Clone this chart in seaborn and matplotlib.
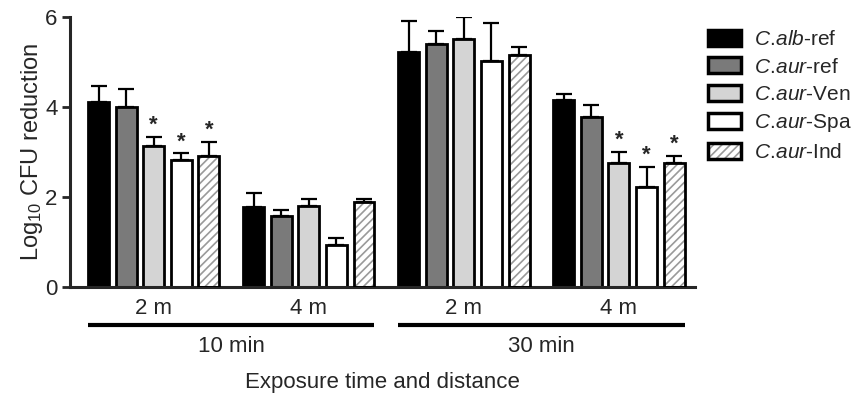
import matplotlib
matplotlib.use("Agg")
import matplotlib.pyplot as plt
import matplotlib.patches as mpatches
import matplotlib.transforms as mtransforms
from matplotlib.legend_handler import HandlerTuple
import numpy as np
import pandas as pd
import seaborn as sns

# data
conditions = ["10 min 2 m", "10 min 4 m", "30 min 2 m", "30 min 4 m"]
tick_labels = ["2 m", "4 m", "2 m", "4 m"]
times = ["10 min", "30 min"]
strains = ["C.alb-ref", "C.aur-ref", "C.aur-Ven", "C.aur-Spa", "C.aur-Ind"]
legend_labels = [r"$\it{C.\!alb}$-ref", r"$\it{C.\!aur}$-ref", r"$\it{C.\!aur}$-Ven",
                 r"$\it{C.\!aur}$-Spa", r"$\it{C.\!aur}$-Ind"]
# mean log10 reduction per strain, one value per condition
alb_ref = [4.11, 1.78, 5.22, 4.16]
aur_ref = [4.00, 1.58, 5.40, 3.78]
aur_ven = [3.13, 1.80, 5.51, 2.76]
aur_spa = [2.82, 0.93, 5.02, 2.22]
aur_ind = [2.91, 1.89, 5.15, 2.76]
# upper error (SD)
alb_ref_err = [0.36, 0.31, 0.69, 0.13]
aur_ref_err = [0.40, 0.13, 0.29, 0.26]
aur_ven_err = [0.21, 0.16, 0.49, 0.24]
aur_spa_err = [0.15, 0.16, 0.85, 0.45]
aur_ind_err = [0.32, 0.06, 0.18, 0.15]
# significance stars (strain, condition index)
stars = [("C.aur-Ven", 0), ("C.aur-Spa", 0), ("C.aur-Ind", 0),
         ("C.aur-Ven", 3), ("C.aur-Spa", 3), ("C.aur-Ind", 3)]

means = [alb_ref, aur_ref, aur_ven, aur_spa, aur_ind]
errs = [alb_ref_err, aur_ref_err, aur_ven_err, aur_spa_err, aur_ind_err]
rows = []
for s, m, e in zip(strains, means, errs):
    for c, v, ev in zip(conditions, m, e):
        rows.append({"condition": c, "strain": s, "value": v, "err": ev})
df = pd.DataFrame(rows)

colors = ["#000000", "#7a7a7a", "#d4d4d4", "#ffffff", "#ffffff"]
hatch_color = "#9a9a9a"

sns.set_style("ticks")
plt.rcParams["font.family"] = ["Liberation Sans", "DejaVu Sans"]
plt.rcParams["mathtext.fontset"] = "custom"
plt.rcParams["mathtext.rm"] = "Liberation Sans"
plt.rcParams["mathtext.it"] = "Liberation Sans:italic"
plt.rcParams["hatch.linewidth"] = 1.2

fig = plt.figure(figsize=(8.6, 3.98), dpi=100)
ax = fig.add_axes([0.0814, 0.279, 0.7266, 0.678])

sns.barplot(data=df, x="condition", y="value", hue="strain", order=conditions,
            hue_order=strains, palette=colors, errorbar=None, width=0.89,
            gap=0.24, edgecolor="black", linewidth=2, legend=False, ax=ax,
            saturation=1)
bar_groups = list(ax.containers)

tops = {}
for cont, s, e in zip(bar_groups, strains, errs):
    xs, hs = [], []
    for p in cont.patches:
        xs.append(p.get_x() + p.get_width() / 2)
        hs.append(p.get_height())
        if s == "C.aur-Ind":
            p.set_hatch("////")
            p.set_edgecolor(hatch_color)
            p.set_linewidth(0)
            ax.add_patch(mpatches.Rectangle((p.get_x(), 0), p.get_width(), p.get_height(),
                                            fill=False, edgecolor="black", linewidth=2, zorder=3))
    xs = np.array(xs)
    hs = np.array(hs)
    ax.errorbar(xs, hs, yerr=[np.zeros(len(e)), e], fmt="none", ecolor="black",
                elinewidth=1.6, capsize=6, capthick=1.6, zorder=1)
    tops[s] = (xs, hs + np.array(e))

for s, i in stars:
    x, t = tops[s][0][i], tops[s][1][i]
    ax.text(x, t + 0.02, "*", ha="center", va="bottom", fontsize=16, fontweight="bold")

ax.set_ylim(0, 6)
ax.set_yticks([0, 2, 4, 6])
ax.set_xlim(-0.54, 3.49)
ax.set_xticks(range(len(conditions)))
ax.set_xticklabels(tick_labels)
ax.tick_params(axis="x", length=0, pad=8, labelsize=16)
ax.tick_params(axis="y", length=6, width=2, labelsize=16, pad=3)
for sp in ["left", "bottom"]:
    ax.spines[sp].set_linewidth(2.2)
sns.despine(ax=ax)
ax.set_xlabel("")
ax.set_ylabel(r"Log$_{10}$ CFU reduction", fontsize=17, labelpad=0)

# time brackets under the axis
trans = mtransforms.blended_transform_factory(ax.transData, ax.transAxes)
first = bar_groups[0].patches
last = bar_groups[-1].patches
for k, t in enumerate(times):
    x0 = first[2 * k].get_x()
    x1 = last[2 * k + 1].get_x() + last[2 * k + 1].get_width()
    ax.plot([x0, x1], [-0.141, -0.141], color="black", linewidth=3,
            transform=trans, clip_on=False, solid_capstyle="butt")
    ax.text((x0 + x1) / 2, -0.22, t, transform=trans, ha="center", va="center",
            fontsize=16)
ax.text(0.5, -0.355, "Exposure time and distance", transform=ax.transAxes,
        ha="center", va="center", fontsize=16)

handles = []
for c, s in zip(colors, strains):
    if s == "C.aur-Ind":
        h1 = mpatches.Patch(facecolor="white", edgecolor=hatch_color, hatch="////", linewidth=0)
        h2 = mpatches.Patch(facecolor="none", edgecolor="black", linewidth=2.5)
        handles.append((h1, h2))
    else:
        handles.append(mpatches.Patch(facecolor=c, edgecolor="black", linewidth=2.5))
fig.legend(handles, legend_labels, loc="upper left", bbox_to_anchor=(0.823, 0.925),
           frameon=False, fontsize=15, handlelength=1.6, handleheight=0.8,
           labelspacing=0.4, handletextpad=0.6, borderpad=0, borderaxespad=0,
           handler_map={tuple: HandlerTuple(ndivide=1, pad=0)})

fig.savefig("out.png", dpi=100)
